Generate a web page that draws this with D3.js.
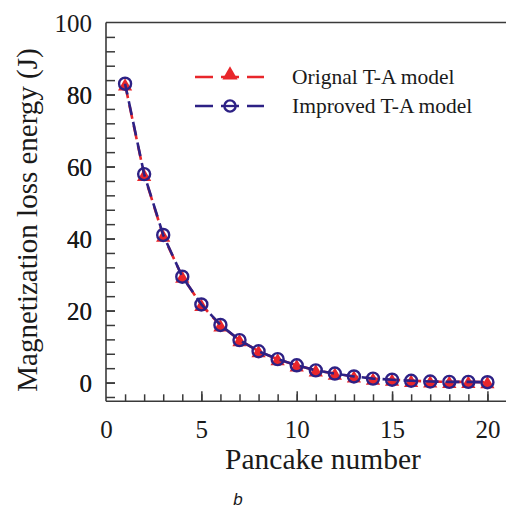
<!DOCTYPE html>
<html>
<head>
<meta charset="utf-8">
<script src="https://cdn.jsdelivr.net/npm/d3@7/dist/d3.min.js"></script>
<style>
  html, body { margin: 0; padding: 0; background: #fff; }
  svg { display: block; }
  text { font-family: "Liberation Serif", "Times New Roman", serif; fill: #1a1a1a; }
</style>
</head>
<body>
<svg id="chart" width="506" height="509"></svg>
<script>
// Magnetization loss energy per pancake coil
const pancakes = d3.range(1, 21);
const originalTA = [82.8, 57.7, 40.8, 29.4, 21.6, 15.9, 11.8, 8.7, 6.5, 4.8, 3.4, 2.5, 1.7, 1.1, 0.8, 0.5, 0.3, 0.2, 0.2, 0.1];
const improvedTA = [83.0, 57.9, 41.0, 29.4, 21.7, 16.0, 11.8, 8.7, 6.5, 4.8, 3.4, 2.5, 1.7, 1.1, 0.8, 0.5, 0.3, 0.2, 0.2, 0.1];
const seriesNames = ["Orignal T-A model", "Improved T-A model"];
const xTickLabels = [0, 5, 10, 15, 20];
const yTickLabels = [0, 20, 40, 60, 80, 100];

const RED = "#e8262b";
const NAVY = "#2d2185";
const AXIS = "#3a3a3a";
const SERIF = "'Liberation Serif', 'Times New Roman', serif";

const svg = d3.select("#chart");
const plotL = 106, plotR = 506.5, plotT = 22.5, plotB = 401.3;

const x = d3.scaleLinear().domain([0, 21]).range([plotL, plotR]);
const y = d3.scaleLinear().domain([-5.2, 100]).range([plotB, plotT]);

// frame: top border, left and bottom axis lines
const frame = svg.append("g").attr("stroke", AXIS).attr("stroke-width", 1.6).attr("fill", "none");
frame.append("line").attr("x1", plotL).attr("x2", plotR).attr("y1", plotT).attr("y2", plotT);
frame.append("line").attr("x1", plotL).attr("x2", plotL).attr("y1", plotT).attr("y2", plotB);
frame.append("line").attr("x1", plotL).attr("x2", plotR).attr("y1", plotB).attr("y2", plotB);

// y axis: inward ticks every 4, labels every 20
const yAxis = d3.axisLeft(y)
  .tickValues(d3.range(-4, 100, 4).concat(yTickLabels))
  .tickSize(-9)
  .tickFormat(d => yTickLabels.includes(d) ? d : "");
const gy = svg.append("g").attr("transform", `translate(${plotL},0)`).call(yAxis)
  .attr("font-family", null).attr("font-size", null);
gy.select(".domain").remove();
gy.selectAll(".tick line").attr("stroke", AXIS).attr("stroke-width", 1.5);
gy.selectAll(".tick text")
  .attr("x", -14).attr("dy", "0.34em")
  .style("font-family", SERIF).style("font-size", "25px").attr("fill", "#1a1a1a");
gy.selectAll(".tick").filter(d => d === 100).select("line").remove();

// x axis: minor ticks every 1, major every 5
const xMinor = d3.axisBottom(x).tickValues(d3.range(1, 22)).tickSize(-7).tickFormat("");
const gxm = svg.append("g").attr("transform", `translate(0,${plotB})`).call(xMinor);
gxm.select(".domain").remove();
gxm.selectAll(".tick line").attr("stroke", AXIS).attr("stroke-width", 1.5);

const xMajor = d3.axisBottom(x).tickValues(xTickLabels).tickSize(-10).tickFormat(d3.format("d"));
const gx = svg.append("g").attr("transform", `translate(0,${plotB})`).call(xMajor)
  .attr("font-family", null).attr("font-size", null);
gx.select(".domain").remove();
gx.selectAll(".tick line").attr("stroke", AXIS).attr("stroke-width", 1.5);
gx.selectAll(".tick").filter(d => d === 0).select("line").remove();
gx.selectAll(".tick text")
  .attr("y", 37).attr("dy", 0)
  .style("font-family", SERIF).style("font-size", "25px").attr("fill", "#1a1a1a");

// axis titles
svg.append("text")
  .attr("x", 323).attr("y", 469)
  .attr("text-anchor", "middle")
  .style("font-family", SERIF)
  .style("font-size", "29.5px")
  .text("Pancake number");

svg.append("text")
  .attr("transform", "translate(37,220) rotate(-90)")
  .attr("text-anchor", "middle")
  .style("font-family", SERIF)
  .style("font-size", "29px")
  .text("Magnetization loss energy (J)");

// panel letter
svg.append("text")
  .attr("x", 238).attr("y", 505)
  .attr("text-anchor", "middle")
  .style("font-family", "'Liberation Sans', Arial, sans-serif")
  .style("font-style", "italic")
  .style("font-size", "17px")
  .text("b");

// series
const line = d3.line().x((d, i) => x(pancakes[i])).y(d => y(d));
const dash = "14,7";

svg.append("path").datum(originalTA)
  .attr("d", line).attr("fill", "none")
  .attr("stroke", RED).attr("stroke-width", 2.6).attr("stroke-dasharray", dash);

const tri = d3.symbol().type(d3.symbolTriangle).size(88);
svg.append("g").selectAll("path").data(originalTA).join("path")
  .attr("transform", (d, i) => `translate(${x(pancakes[i])},${y(d) + 2})`)
  .attr("d", tri).attr("fill", RED);

svg.append("path").datum(improvedTA)
  .attr("d", line).attr("fill", "none")
  .attr("stroke", NAVY).attr("stroke-width", 2.6).attr("stroke-dasharray", dash)
  .attr("stroke-dashoffset", 3);

svg.append("g").selectAll("circle").data(improvedTA).join("circle")
  .attr("cx", (d, i) => x(pancakes[i])).attr("cy", d => y(d))
  .attr("r", 6).attr("fill", "none")
  .attr("stroke", NAVY).attr("stroke-width", 2.4);

// legend
const legend = svg.append("g");
const legendRows = [
  { name: seriesNames[0], color: RED, marker: "tri", yy: 77 },
  { name: seriesNames[1], color: NAVY, marker: "circle", yy: 106 }
];
legendRows.forEach(r => {
  legend.append("line")
    .attr("x1", 195).attr("x2", 264).attr("y1", r.yy).attr("y2", r.yy)
    .attr("stroke", r.color).attr("stroke-width", 2.6).attr("stroke-dasharray", "18,8");
  if (r.marker === "tri") {
    legend.append("path")
      .attr("transform", `translate(230,${r.yy - 2})`)
      .attr("d", d3.symbol().type(d3.symbolTriangle).size(100)).attr("fill", r.color);
  } else {
    legend.append("circle").attr("cx", 230).attr("cy", r.yy).attr("r", 5.6)
      .attr("fill", "#fff").attr("stroke", r.color).attr("stroke-width", 2.4);
    legend.append("line").attr("x1", 224).attr("x2", 236).attr("y1", r.yy).attr("y2", r.yy)
      .attr("stroke", r.color).attr("stroke-width", 2.3);
  }
  legend.append("text")
    .attr("x", 292).attr("y", r.yy + 7)
    .style("font-family", SERIF)
    .style("font-size", "21.5px")
    .text(r.name);
});
</script>
</body>
</html>
